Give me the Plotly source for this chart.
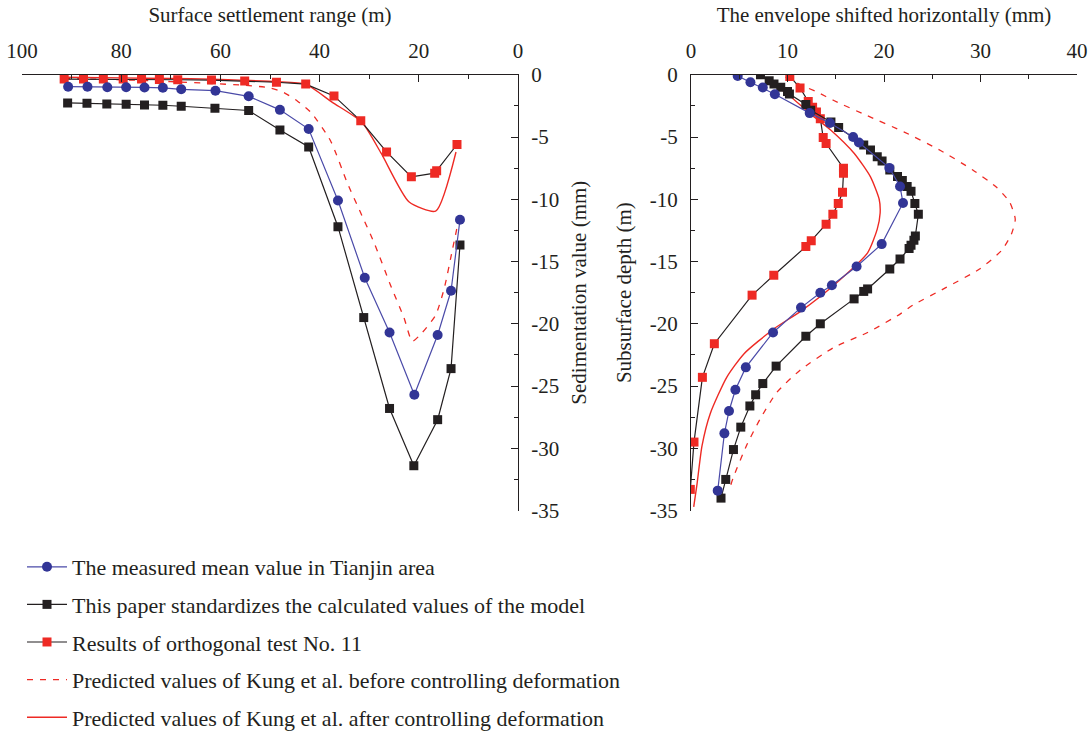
import plotly.graph_objects as go

# ---------------- Data ----------------
# Left panel: surface settlement
L_blue_x = [90.7, 86.8, 82.8, 79.0, 75.3, 71.6, 67.9, 61.0, 54.3, 48.0, 42.2, 36.3, 30.9, 25.9, 20.9, 16.2, 13.5, 11.7]
L_blue_y = [-0.96, -0.96, -1.0, -1.0, -1.02, -1.05, -1.17, -1.28, -1.73, -2.82, -4.36, -10.1, -16.3, -20.7, -25.7, -20.9, -17.35, -11.65]

L_black_x = [90.8, 86.9, 82.9, 79.0, 75.3, 71.6, 67.9, 61.1, 54.3, 48.0, 42.2, 36.3, 31.1, 25.9, 21.0, 16.2, 13.5, 11.7]
L_black_y = [-2.26, -2.29, -2.34, -2.37, -2.42, -2.45, -2.53, -2.69, -2.87, -4.44, -5.8, -12.2, -19.5, -26.8, -31.4, -27.7, -23.6, -13.67]

L_red_x = [91.5, 87.6, 83.6, 79.6, 75.9, 72.3, 68.6, 61.8, 55.1, 48.7, 42.8, 37.1, 31.7, 26.5, 21.5, 16.8, 16.4, 12.3]
L_red_y = [-0.35, -0.35, -0.35, -0.35, -0.35, -0.38, -0.4, -0.43, -0.5, -0.6, -0.75, -1.7, -3.7, -6.2, -8.2, -7.9, -7.7, -5.6]

L_kb_x = [91.5, 80.0, 70.0, 61.8, 55.0, 50.0, 47.2, 44.5, 41.8, 37.8, 34.4, 31.7, 29.0, 25.7, 23.0, 21.3, 19.3, 16.6, 14.9, 13.2, 12.2]
L_kb_y = [-0.3, -0.4, -0.55, -0.7, -0.85, -1.05, -1.43, -2.1, -3.0, -5.3, -8.7, -11.1, -13.5, -16.9, -19.5, -21.4, -20.7, -19.3, -17.2, -14.0, -12.1]

L_ka_x = [91.5, 80.0, 70.0, 61.8, 55.0, 48.7, 42.8, 37.5, 31.5, 27.6, 22.0, 16.6, 12.5]
L_ka_y = [-0.2, -0.25, -0.3, -0.35, -0.45, -0.55, -0.75, -2.2, -3.8, -6.3, -10.2, -10.95, -6.2]

# Right panel: horizontal displacement envelope
R_blue_x = [4.84, 6.16, 7.44, 8.69, 12.3, 14.4, 16.8, 17.4, 20.55, 21.66, 21.97, 19.76, 17.16, 14.6, 13.4, 11.4, 8.5, 5.68, 4.6, 3.94, 3.46, 2.77]
R_blue_y = [-0.1, -0.6, -1.03, -1.56, -3.08, -3.87, -5.0, -5.44, -7.48, -8.97, -10.3, -13.6, -15.4, -16.9, -17.5, -18.7, -20.7, -23.5, -25.3, -27.0, -28.8, -33.4]

R_black_x = [7.2, 8.1, 8.6, 9.3, 10.0, 10.2, 11.9, 12.4, 14.5, 15.3, 17.9, 18.6, 19.3, 19.8, 20.6, 21.4, 21.9, 22.4, 22.8, 23.2,
             23.56, 23.25, 23.1, 22.8, 22.6, 21.66, 20.6, 18.3, 17.9, 16.9, 13.4, 11.9, 8.82, 7.44, 6.7, 6.1, 5.16, 4.4, 3.6, 3.11]
R_black_y = [0.0, -0.48, -0.74, -1.0, -1.35, -1.54, -2.39, -2.86, -3.8, -4.24, -5.65, -6.05, -6.58, -6.92, -7.64, -8.17, -8.49, -8.97, -9.36, -10.34,
             -11.2, -12.94, -13.3, -13.7, -13.95, -14.8, -15.6, -17.2, -17.4, -18.0, -20.0, -21.0, -23.4, -24.8, -25.7, -26.6, -28.3, -30.1, -32.5, -34.0]

R_red_x = [10.24, 11.3, 12.15, 12.6, 13.0, 13.4, 13.7, 14.0, 15.8, 15.8, 15.7, 15.26, 14.7, 14.0, 12.46, 11.9, 8.58, 6.33, 2.42, 1.18, 0.31, -0.07]
R_red_y = [-0.13, -1.06, -2.15, -2.6, -3.0, -3.53, -5.04, -5.52, -7.5, -7.9, -9.44, -10.34, -11.2, -12.0, -13.34, -13.8, -16.1, -17.7, -21.6, -24.3, -29.5, -33.3]

R_kb_x = [9.8, 11.35, 13.1, 14.8, 18.3, 22.1, 25.9, 29.2, 31.6, 33.0, 33.6, 33.2, 32.2, 29.9, 26.4, 23.0, 21.7, 18.3, 14.8, 11.35, 8.9, 7.2, 5.8, 4.4, 4.1]
R_kb_y = [-0.2, -0.8, -1.4, -2.07, -3.3, -4.6, -6.1, -7.65, -9.0, -10.2, -11.6, -12.8, -14.1, -15.6, -17.1, -18.5, -19.2, -20.7, -21.9, -23.7, -25.5, -27.6, -29.7, -32.3, -33.0]

R_ka_x = [7.8, 10.0, 12.3, 14.5, 16.9, 18.6, 19.5, 19.6, 19.3, 18.3, 14.8, 11.35, 8.6, 5.5, 3.7, 2.0, 1.14, 0.62, 0.28]
R_ka_y = [-0.35, -1.54, -3.1, -4.45, -6.3, -8.2, -10.0, -11.1, -12.4, -14.3, -16.9, -19.0, -20.4, -22.4, -24.3, -27.2, -29.8, -32.9, -34.7]

names = [
    "The measured mean value in Tianjin area",
    "This paper standardizes the calculated values of the model",
    "Results of orthogonal test No. 11",
    "Predicted values of Kung et al. before controlling deformation",
    "Predicted values of Kung et al. after controlling deformation",
]

L_xticks = [100, 80, 60, 40, 20, 0]
L_xticktext = ["100", "80", "60", "40", "20", "0"]
R_xticks = [0, 10, 20, 30, 40]
R_xticktext = ["0", "10", "20", "30", "40"]
yticks = [0, -5, -10, -15, -20, -25, -30, -35]
yticktext = ["0", "-5", "-10", "-15", "-20", "-25", "-30", "-35"]

# ---------------- Styles ----------------
BLUE = "#323596"
BLUE_LINE = "#4a4aa8"
BLACK = "#231f20"
RED = "#ee2a24"
FONT = "Liberation Serif"
FS = 21
LFS = 22

fig = go.Figure()

def add_set(xb, yb, xk, yk, xr, yr, xkb, ykb, xka, yka, xa, ya, show):
    fig.add_trace(go.Scatter(x=xka, y=yka, mode="lines", name=names[4], legendgroup="g5",
                             line=dict(color=RED, width=1.4, shape="spline", smoothing=0.6),
                             xaxis=xa, yaxis=ya, showlegend=show, legendrank=5))
    fig.add_trace(go.Scatter(x=xkb, y=ykb, mode="lines", name=names[3], legendgroup="g4",
                             line=dict(color=RED, width=1.3, dash="6px,7px", shape="spline", smoothing=0.6),
                             xaxis=xa, yaxis=ya, showlegend=show, legendrank=4))
    fig.add_trace(go.Scatter(x=xr, y=yr, mode="lines+markers", name=names[2], legendgroup="g3",
                             line=dict(color=BLACK, width=1.2),
                             marker=dict(symbol="square", size=9, color=RED),
                             xaxis=xa, yaxis=ya, showlegend=show, legendrank=3))
    fig.add_trace(go.Scatter(x=xk, y=yk, mode="lines+markers", name=names[1], legendgroup="g2",
                             line=dict(color=BLACK, width=1.2),
                             marker=dict(symbol="square", size=9, color=BLACK),
                             xaxis=xa, yaxis=ya, showlegend=show, legendrank=2))
    fig.add_trace(go.Scatter(x=xb, y=yb, mode="lines+markers", name=names[0], legendgroup="g1",
                             line=dict(color=BLUE_LINE, width=1.2),
                             marker=dict(symbol="circle", size=10, color=BLUE),
                             xaxis=xa, yaxis=ya, showlegend=show, legendrank=1))

add_set(L_blue_x, L_blue_y, L_black_x, L_black_y, L_red_x, L_red_y, L_kb_x, L_kb_y, L_ka_x, L_ka_y, "x", "y", True)
add_set(R_blue_x, R_blue_y, R_black_x, R_black_y, R_red_x, R_red_y, R_kb_x, R_kb_y, R_ka_x, R_ka_y, "x2", "y2", False)

W, H = 1091, 738
ydom = [1 - 519 / H, 1 - 76 / H]
axis_common = dict(showline=True, linecolor=BLACK, linewidth=1.3, showgrid=False, zeroline=False,
                   ticks="inside", ticklen=7, tickwidth=1.3, tickcolor=BLACK, automargin=False,
                   tickfont=dict(family=FONT, size=FS, color=BLACK), mirror=False)
minor_common = dict(ticks="inside", ticklen=4, tickcolor=BLACK, tickwidth=1.3)

fig.update_layout(
    width=W, height=H, margin=dict(l=0, r=0, t=0, b=0),
    paper_bgcolor="white", plot_bgcolor="white",
    font=dict(family=FONT, size=FS, color=BLACK),
    xaxis=dict(domain=[22 / W, 518 / W], range=[100, 0], side="top", anchor="y",
               tickvals=L_xticks, ticktext=L_xticktext, ticklabelstandoff=7,
               minor=dict(dtick=10, tick0=0, **minor_common),
               title=dict(text="Surface settlement range (m)", standoff=10, font=dict(family=FONT, size=FS)),
               **axis_common),
    yaxis=dict(domain=ydom, range=[-35, 0], side="right", anchor="x",
               tickvals=yticks, ticktext=yticktext, ticklabelstandoff=8,
               minor=dict(dtick=2.5, tick0=0, **minor_common),
               title=dict(text="Sedimentation value (mm)", standoff=12, font=dict(family=FONT, size=FS)),
               **axis_common),
    xaxis2=dict(domain=[691 / W, 1077 / W], range=[0, 40], side="top", anchor="y2",
                tickvals=R_xticks, ticktext=R_xticktext, ticklabelstandoff=7,
                minor=dict(dtick=5, tick0=0, **minor_common),
                title=dict(text="The envelope shifted horizontally (mm)", standoff=10, font=dict(family=FONT, size=FS)),
                **axis_common),
    yaxis2=dict(domain=ydom, range=[-35, 0], side="left", anchor="x2",
                tickvals=yticks, ticktext=yticktext, ticklabelstandoff=8,
                minor=dict(dtick=2.5, tick0=0, **minor_common),
                title=dict(text="Subsurface depth (m)", standoff=12, font=dict(family=FONT, size=FS)),
                **axis_common),
    legend=dict(x=22 / W, y=1 - 555 / H, xanchor="left", yanchor="top", orientation="v",
                font=dict(family=FONT, size=LFS, color=BLACK), itemwidth=40,
                tracegroupgap=6, bgcolor="rgba(0,0,0,0)", traceorder="grouped"),
    showlegend=True,
)

fig.write_html("out.html")
